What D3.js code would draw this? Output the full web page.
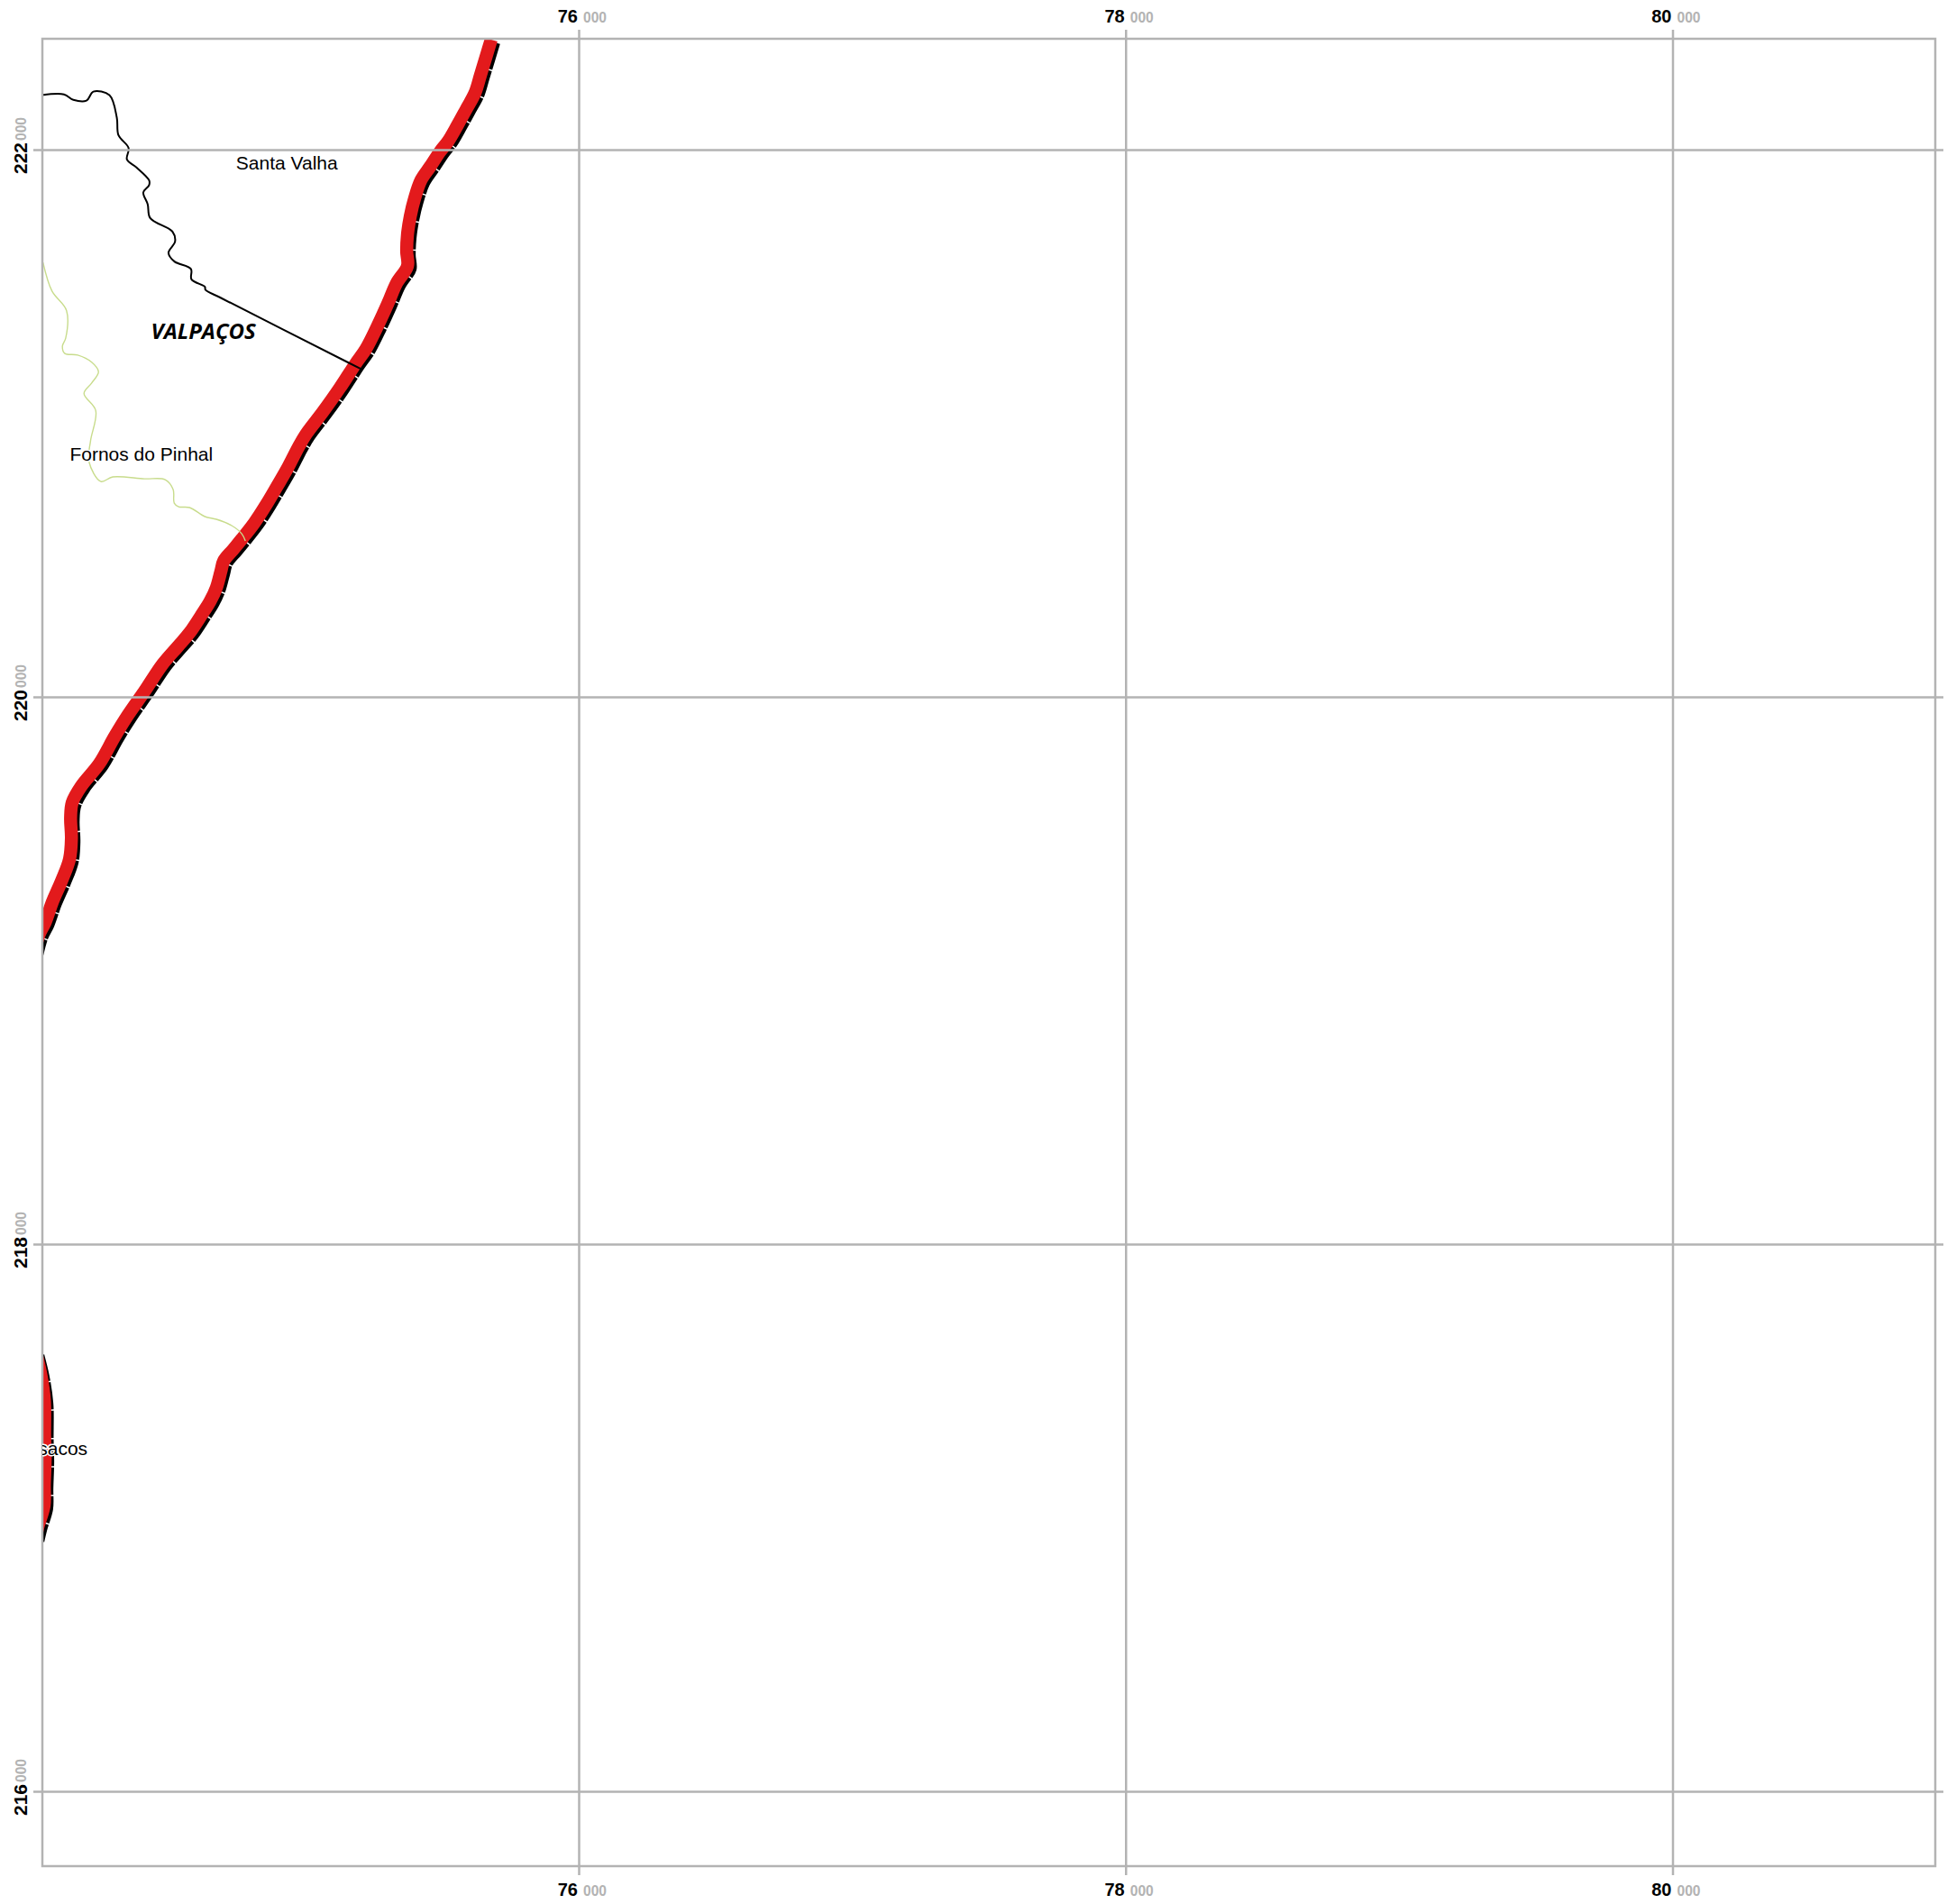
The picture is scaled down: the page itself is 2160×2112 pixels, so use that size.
<!DOCTYPE html>
<html>
<head>
<meta charset="utf-8">
<script src="https://d3js.org/d3.v7.min.js"></script>
<style>
  html, body { margin: 0; background: #fff; }
  text { font-family: "Liberation Sans", Arial, sans-serif; }
  .grid line { stroke: #b3b3b3; stroke-width: 2.5; }
  .grid .domain { display: none; }
  .km { font-size: 20px; font-weight: bold; fill: #000; }
  .km.side { font-size: 21px; }
  .m { font-size: 15.6px; font-weight: bold; fill: #b3b3b3; }
  .place { font-size: 21px; fill: #000; paint-order: stroke; stroke: #fff; stroke-width: 3px; }
  .concelho { font-family: "Open Sans", sans-serif; font-size: 24px; font-weight: bold; font-style: italic; }
</style>
</head>
<body>
<script>
// map coordinates in metres
var xTicks = [76000, 78000, 80000];
var yTicks = [222000, 220000, 218000, 216000];

var roadNorth = [
  [75680,222402],[75661,222339],[75641,222273],[75621,222208],[75591,222152],[75558,222092],
  [75522,222030],[75493,221993],[75456,221937],[75423,221888],[75400,221822],[75384,221756],
  [75374,221690],[75371,221628],[75374,221575],[75334,221512],[75303,221440],[75265,221357],
  [75222,221272],[75183,221216],[75127,221130],[75064,221041],[75002,220959],[74975,220913],
  [74932,220830],[74896,220768],[74857,220702],[74814,220636],[74768,220577],[74735,220537],
  [74702,220497],[74692,220461],[74675,220399],[74652,220349],[74619,220297],[74577,220234],
  [74534,220184],[74478,220119],[74412,220020],[74352,219934],[74303,219855],[74247,219756],
  [74181,219674],[74148,219614],[74142,219558],[74145,219483],[74138,219407],[74109,219328],
  [74076,219252],[74049,219176],[74026,219130],[74010,219071]
];

var roadSouth = [
  [74013,217608],[74032,217529],[74046,217430],[74047,217298],[74049,217219],
  [74046,217120],[74045,217044],[74023,216969],[74013,216926]
];

var boundary = [
  [74033,222199],[74118,222202],[74152,222182],[74200,222179],[74225,222212],[74284,222199],
  [74311,222117],[74317,222053],[74354,222006],[74348,221964],[74383,221935],[74429,221888],
  [74429,221870],[74408,221844],[74424,221800],[74433,221750],[74515,221700],[74524,221664],
  [74500,221623],[74522,221591],[74582,221564],[74584,221526],[74633,221499],[74635,221488],
  [74692,221458],[75153,221224],[75203,221199]
];

var parish = [
  [74041,221588],[74074,221483],[74127,221412],[74124,221311],[74112,221282],[74121,221255],
  [74168,221249],[74219,221223],[74244,221188],[74219,221147],[74191,221109],[74234,221046],
  [74215,220936],[74209,220860],[74253,220787],[74296,220804],[74412,220797],[74488,220794],
  [74517,220758],[74521,220708],[74537,220695],[74577,220692],[74633,220659],[74675,220649],
  [74731,220626],[74768,220596],[74781,220570]
];

var places = [
  { name: "Santa Valha", loc: [74747, 221929] },
  { name: "Fornos do Pinhal", loc: [74139, 220864] }
];
var possacos = { name: "Possacos", loc: [74204, 217229] };
var concelho = { name: "VALPAÇOS", loc: [74436, 221308] };

var width = 2160,
  height = 2112;
var frame = { left: 47, right: 2147, top: 43, bottom: 2070 };

var svg = d3.select("body").append("svg")
  .attr("width", width)
  .attr("height", height)
  .style("display", "block");

var x = d3.scaleLinear().domain([76000, 80000]).range([642, 1855.5]);
var y = d3.scaleLinear().domain([222000, 216000]).range([166, 1987]);

svg.append("defs").append("clipPath").attr("id", "map")
  .append("rect")
  .attr("x", frame.left)
  .attr("y", frame.top)
  .attr("width", frame.right - frame.left)
  .attr("height", frame.bottom - frame.top);

var line = d3.line()
  .x(d => x(d[0]))
  .y(d => y(d[1]))
  .curve(d3.curveCatmullRom.alpha(0.5));

var map = svg.append("g").attr("clip-path", "url(#map)");

// black dashed line runs along the lower right side of the red one
[roadNorth, roadSouth].forEach(road => {
  map.append("path")
    .attr("d", line(road))
    .attr("transform", "translate(7,4)")
    .attr("fill", "none")
    .attr("stroke", "#000")
    .attr("stroke-width", 6)
    .attr("stroke-dasharray", "30 1.5");
  map.append("path")
    .attr("d", line(road))
    .attr("fill", "none")
    .attr("stroke", "#e31a1c")
    .attr("stroke-width", 14.5);
});

map.append("path")
  .attr("d", line(parish))
  .attr("fill", "none")
  .attr("stroke", "#c8dc8c")
  .attr("stroke-width", 1.4);

map.append("path")
  .attr("d", line(boundary))
  .attr("fill", "none")
  .attr("stroke", "#000")
  .attr("stroke-width", 2);

// grid, the ticks stick out a little past the frame
svg.append("g")
  .attr("class", "grid")
  .attr("transform", "translate(0,33)")
  .call(d3.axisBottom(x).tickValues(xTicks).tickSize(2080 - 33).tickFormat(""));

svg.append("g")
  .attr("class", "grid")
  .attr("transform", "translate(37,0)")
  .call(d3.axisRight(y).tickValues(yTicks).tickSize(2156 - 37).tickFormat(""));

svg.append("rect")
  .attr("x", frame.left)
  .attr("y", frame.top)
  .attr("width", frame.right - frame.left)
  .attr("height", frame.bottom - frame.top)
  .attr("fill", "none")
  .attr("stroke", "#b3b3b3")
  .attr("stroke-width", 2.5);

// labels
var labels = svg.append("g");

labels.selectAll(".place")
  .data(places)
  .enter()
  .append("text")
  .attr("class", "place")
  .attr("x", d => x(d.loc[0]))
  .attr("y", d => y(d.loc[1]))
  .text(d => d.name);

svg.append("g").attr("clip-path", "url(#map)")
  .append("text")
  .attr("class", "place")
  .attr("text-anchor", "end")
  .attr("x", x(possacos.loc[0]))
  .attr("y", y(possacos.loc[1]))
  .text(possacos.name);

labels.append("text")
  .attr("class", "concelho")
  .attr("x", x(concelho.loc[0]))
  .attr("y", y(concelho.loc[1]))
  .text(concelho.name);

// tick labels, km in black and the three zeros in grey
[25, 2103].forEach(base => {
  var g = svg.append("g");
  g.selectAll(".km")
    .data(xTicks)
    .enter()
    .append("text")
    .attr("class", "km")
    .attr("text-anchor", "end")
    .attr("x", d => x(d) - 1)
    .attr("y", base)
    .text(d => d / 1000);
  g.selectAll(".m")
    .data(xTicks)
    .enter()
    .append("text")
    .attr("class", "m")
    .attr("x", d => x(d) + 5)
    .attr("y", base)
    .text("000");
});

var yLabels = svg.append("g").selectAll("g")
  .data(yTicks)
  .enter()
  .append("g")
  .attr("transform", d => "translate(30," + y(d) + ") rotate(-90)");

yLabels.append("text")
  .attr("class", "km side")
  .attr("text-anchor", "end")
  .attr("x", 8)
  .text(d => d / 1000);

yLabels.append("text")
  .attr("class", "m")
  .attr("x", 10)
  .attr("y", -1)
  .text("000");
</script>
</body>
</html>
